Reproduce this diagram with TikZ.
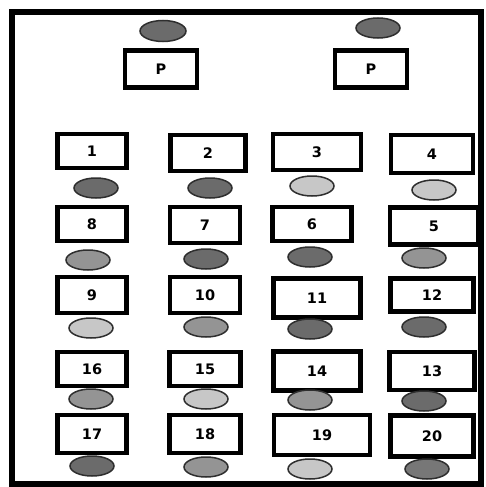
\documentclass[tikz,border=0pt]{standalone}
\usepackage{fontspec}
\setmainfont{DejaVu Sans}
\usetikzlibrary{shapes.geometric}
\definecolor{dkE}{gray}{0.42}
\definecolor{mdE}{gray}{0.58}
\definecolor{ltE}{gray}{0.78}
\definecolor{edgeE}{gray}{0.18}
\tikzset{
  frame/.style={draw=black, line width=6.5pt},
  desk/.style={draw=black, line width=4.5pt, fill=white, inner sep=0pt, font=\bfseries\fontsize{14.5}{15}\selectfont},
  seat/.style={ellipse, draw=edgeE, line width=1.5pt, inner sep=0pt, minimum width=44pt, minimum height=20pt},
  dk/.style={seat, fill=dkE},
  md/.style={seat, fill=mdE},
  lt/.style={seat, fill=ltE}
}
\newcommand{\dsk}[6]{\node[desk, minimum width=#4pt, minimum height=#5pt] (#1) at (#2,#3) {#6};}
\begin{document}
\begin{tikzpicture}[x=1pt, y=-1pt]
\useasboundingbox (0,0) rectangle (486,487);
\fill[white] (0,0) rectangle (486,487);
\draw[frame] (12,12) rectangle (481,484);
% top P desks
\node[dk, minimum width=46pt, minimum height=21pt] (tp1) at (163,31) {};
\node[dk, minimum width=44pt, minimum height=20pt] (tp2) at (378,28) {};
\dsk{p1}{161}{69}{72}{37}{P}
\dsk{p2}{371}{69}{72}{37}{P}
% row 1
\dsk{d1}{92}{151}{69}{34}{1}
\dsk{d2}{208}{153}{75}{36}{2}
\dsk{d3}{317}{152}{88}{36}{3}
\dsk{d4}{432}{154}{82}{38}{4}
\node[dk] (s1) at (96,188) {};
\node[dk] (s2) at (210,188) {};
\node[lt] (s3) at (312,186) {};
\node[lt] (s4) at (434,190) {};
% row 2
\dsk{d8}{92}{224}{69}{34}{8}
\dsk{d7}{205}{225}{70}{36}{7}
\dsk{d6}{312}{224}{79}{34}{6}
\dsk{d5}{434}{226}{88}{37}{5}
\node[md] (s8) at (88,260) {};
\node[dk] (s7) at (206,259) {};
\node[dk] (s6) at (310,257) {};
\node[md] (s5) at (424,258) {};
% row 3
\dsk{d9}{92}{295}{69}{36}{9}
\dsk{d10}{205}{295}{70}{36}{10}
\dsk{d11}{317}{298}{87}{39}{11}
\dsk{d12}{432}{295}{83}{33}{12}
\node[lt] (s9) at (91,328) {};
\node[md] (s10) at (206,327) {};
\node[dk] (s11) at (310,329) {};
\node[dk] (s12) at (424,327) {};
% row 4
\dsk{d16}{92}{369}{69}{34}{16}
\dsk{d15}{205}{369}{71}{34}{15}
\dsk{d14}{317}{371}{87}{39}{14}
\dsk{d13}{432}{371}{85}{38}{13}
\node[md] (s16) at (91,399) {};
\node[lt] (s15) at (206,399) {};
\node[md] (s14) at (310,400) {};
\node[dk] (s13) at (424,401) {};
% row 5
\dsk{d17}{92}{434}{69}{38}{17}
\dsk{d18}{205}{434}{71}{38}{18}
\dsk{d19}{322}{435}{96}{40}{19}
\dsk{d20}{432}{436}{83}{41}{20}
\node[dk] (s17) at (92,466) {};
\node[md] (s18) at (206,467) {};
\node[lt] (s19) at (310,469) {};
\node[md, fill=dkE!70!mdE] (s20) at (427,469) {};
\end{tikzpicture}
\end{document}
